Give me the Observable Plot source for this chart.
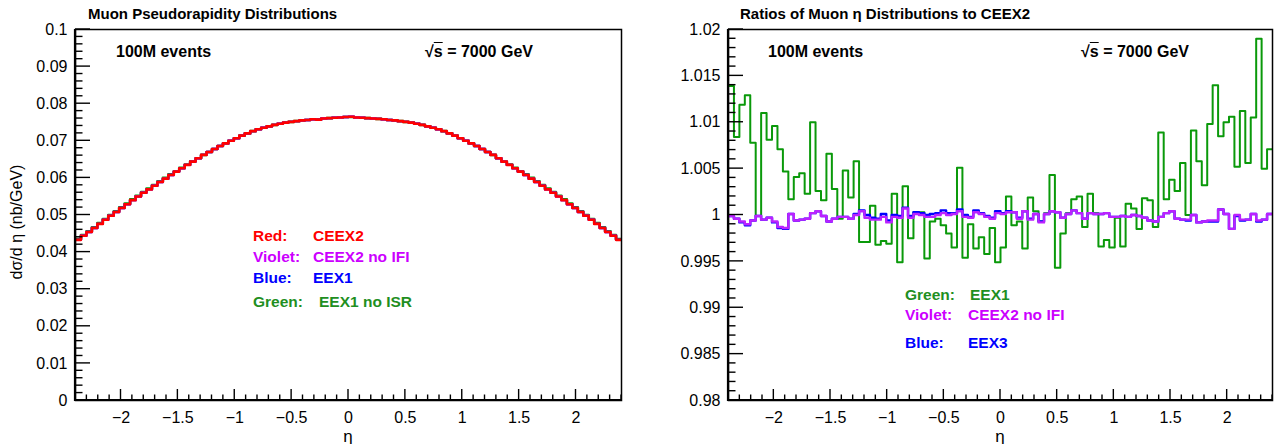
<!DOCTYPE html>
<html><head><meta charset="utf-8">
<script src="https://cdn.jsdelivr.net/npm/d3@7"></script>
<script src="https://cdn.jsdelivr.net/npm/@observablehq/plot@0.6"></script>
<style>
body{margin:0;background:#fff;}
#wrap{position:relative;width:1288px;height:444px;overflow:hidden;font-family:"Liberation Sans",Arial,Helvetica,sans-serif;}
.panel{position:absolute;top:0;}
.t{position:absolute;white-space:nowrap;line-height:1;}
</style></head><body><div id="wrap"></div>
<script>
// ---- binning ----
const etaMin = -2.4, etaMax = 2.4, nBins = 100;

// ---- left panel: dsigma/deta (nb/GeV) ----
const muonCEEX2 = [0.0433,0.0444,0.0454,0.0465,0.0476,0.0487,0.0498,0.0508,0.0519,0.0529,0.0540,0.0550,0.0560,0.0569,0.0579,0.0589,0.0598,0.0608,0.0617,0.0626,0.0635,0.0644,0.0653,0.0662,0.0670,0.0678,0.0686,0.0693,0.0700,0.0707,0.0714,0.0720,0.0726,0.0731,0.0735,0.0739,0.0743,0.0746,0.0749,0.0751,0.0753,0.0755,0.0756,0.0758,0.0757,0.0760,0.0761,0.0762,0.0763,0.0764,
0.0765,0.0763,0.0762,0.0761,0.0760,0.0759,0.0758,0.0756,0.0755,0.0753,0.0751,0.0749,0.0746,0.0743,0.0739,0.0735,0.0731,0.0726,0.0720,0.0714,0.0707,0.0700,0.0693,0.0686,0.0678,0.0670,0.0662,0.0653,0.0644,0.0635,0.0626,0.0617,0.0608,0.0598,0.0589,0.0579,0.0569,0.0560,0.0550,0.0540,0.0529,0.0519,0.0508,0.0498,0.0487,0.0476,0.0465,0.0454,0.0444,0.0433];
const muonEEX1noISR = [0.0435,0.0446,0.0456,0.0467,0.0478,0.0489,0.0500,0.0510,0.0521,0.0531,0.0542,0.0552,0.0562,0.0571,0.0581,0.0591,0.0600,0.0610,0.0618,0.0627,0.0636,0.0645,0.0653,0.0662,0.0670,0.0678,0.0686,0.0693,0.0700,0.0707,0.0714,0.0720,0.0726,0.0731,0.0735,0.0739,0.0743,0.0746,0.0749,0.0751,0.0753,0.0755,0.0756,0.0758,0.0758,0.0760,0.0761,0.0762,0.0763,0.0764,
0.0764,0.0763,0.0762,0.0761,0.0760,0.0759,0.0758,0.0756,0.0755,0.0753,0.0751,0.0749,0.0746,0.0743,0.0739,0.0735,0.0731,0.0726,0.0720,0.0714,0.0707,0.0700,0.0693,0.0686,0.0678,0.0670,0.0662,0.0653,0.0644,0.0636,0.0627,0.0618,0.0610,0.0600,0.0591,0.0581,0.0571,0.0562,0.0552,0.0542,0.0531,0.0521,0.0510,0.0500,0.0489,0.0478,0.0467,0.0456,0.0446,0.0435];
const muonCEEX2noIFI = muonCEEX2;
const muonEEX1 = muonCEEX2;

// ---- right panel: ratios to CEEX2 ----
const ratioEEX1 = [1.0139,1.0084,1.0119,1.0129,1.0078,0.9999,1.0110,1.0081,1.0096,1.0071,1.0047,1.0017,1.0041,1.0045,1.0023,1.0100,1.0026,1.0016,1.0066,1.0028,
0.9996,1.0048,1.0019,1.0058,0.9971,0.9971,1.0010,0.9968,0.9972,0.9969,1.0023,0.9949,1.0031,0.9975,1.0003,1.0003,0.9953,0.9993,0.9996,0.9989,
0.9980,0.9965,1.0051,0.9954,0.9990,0.9964,0.9976,0.9958,0.9986,0.9949,0.9965,1.0020,0.9989,0.9993,0.9964,1.0019,1.0004,0.9993,1.0002,1.0043,
0.9943,0.9980,1.0002,1.0017,1.0020,0.9987,1.0023,1.0002,0.9966,0.9973,0.9965,0.9997,0.9966,1.0012,1.0007,0.9985,1.0018,1.0016,0.9987,1.0089,
1.0017,1.0038,1.0026,1.0056,1.0000,1.0091,1.0058,1.0032,1.0098,1.0140,1.0085,1.0100,1.0106,1.0052,1.0112,1.0056,1.0105,1.0190,1.0050,1.0071];
const ratioCEEX2noIFI = [0.9999,0.9996,0.9993,0.9990,0.9994,0.9999,0.9995,0.9997,0.9993,0.9987,0.9986,1.0001,0.9994,0.9995,0.9996,1.0002,1.0004,0.9999,0.9993,0.9996,
0.9998,0.9998,0.9996,1.0000,1.0004,0.9997,0.9995,0.9995,0.9998,0.9992,0.9998,0.9997,1.0007,0.9997,1.0001,1.0000,0.9998,0.9998,1.0000,1.0002,
1.0000,1.0001,1.0004,0.9998,0.9997,1.0003,1.0001,0.9998,0.9996,1.0002,1.0001,1.0003,1.0003,0.9996,1.0004,0.9995,1.0001,0.9992,1.0001,1.0004,
1.0003,0.9997,1.0001,1.0005,1.0002,0.9996,1.0002,1.0001,1.0001,1.0002,0.9998,0.9998,0.9999,0.9998,1.0000,0.9999,0.9997,0.9994,0.9993,0.9998,
1.0002,1.0004,0.9996,0.9995,0.9995,1.0000,0.9992,0.9993,0.9994,0.9994,1.0006,1.0001,0.9985,1.0000,0.9995,0.9995,1.0001,0.9994,0.9995,1.0001];
const ratioEEX3 = [0.9999,0.9996,0.9992,0.9989,0.9994,0.9999,0.9995,0.9997,0.9992,0.9986,0.9985,1.0001,0.9994,0.9995,0.9996,1.0002,1.0004,0.9999,0.9993,0.9996,
0.9998,0.9998,0.9996,1.0001,1.0005,1.0000,0.9997,0.9996,1.0001,0.9994,1.0000,0.9999,1.0008,0.9999,1.0003,1.0002,1.0000,1.0001,1.0002,1.0005,
1.0002,1.0002,1.0006,1.0000,0.9998,1.0005,1.0002,0.9999,0.9997,1.0004,1.0002,1.0004,1.0003,0.9997,1.0004,0.9996,1.0001,0.9993,1.0001,1.0004,
1.0003,0.9997,1.0001,1.0005,1.0002,0.9996,1.0002,1.0001,1.0001,1.0002,0.9998,0.9998,0.9999,0.9998,1.0000,0.9999,0.9997,0.9994,0.9993,0.9998,
1.0002,1.0004,0.9996,0.9995,0.9994,1.0000,0.9992,0.9993,0.9993,0.9993,1.0006,1.0001,0.9985,0.9999,0.9994,0.9995,1.0001,0.9993,0.9995,1.0001];

// ---- ticks ----
const leftYTicks = [0,0.01,0.02,0.03,0.04,0.05,0.06,0.07,0.08,0.09,0.1];
const rightYTicks = [0.98,0.985,0.99,0.995,1,1.005,1.01,1.015,1.02];
const xTicks = [-2,-1.5,-1,-0.5,0,0.5,1,1.5,2];

const FONT = '"Liberation Sans", Arial, Helvetica, sans-serif';
const binW = (etaMax - etaMin) / nBins;
function stepRows(vals) {
  const rows = vals.map((v, i) => ({x: etaMin + i * binW, y: v}));
  rows.push({x: etaMax, y: vals[vals.length - 1]});
  return rows;
}
function minorTicks(lo, hi, step) {
  const out = [];
  for (let k = Math.ceil(lo / step - 1e-9); k * step <= hi + 1e-9; k++) out.push(+(k * step).toFixed(6));
  return out;
}

function makePanel({yDomain, yTicks, yFmt, yMinorStep, series, marginLeft, marginRight}) {
  const W = 644, H = 444;
  const marks = [];
  for (const s of series) {
    marks.push(Plot.line(stepRows(s.values), {x: "x", y: "y", curve: "step-after", stroke: s.color, strokeWidth: s.width, clip: true}));
  }
  marks.push(Plot.frame({stroke: "#000", strokeWidth: 1.5}));
  marks.push(Plot.axisY(yTicks, {tickSize: 0, tickPadding: 8, tickFormat: yFmt, label: null, fontSize: 16, fill: "#000"}));
  marks.push(Plot.axisX(xTicks, {tickSize: 0, tickPadding: 11, tickFormat: d3.format("~g"), label: null, fontSize: 16, fill: "#000"}));
  const svg = Plot.plot({
    width: W, height: H, marginLeft, marginRight, marginTop: 29, marginBottom: 44,
    x: {domain: [etaMin, etaMax]},
    y: {domain: yDomain},
    style: {fontFamily: FONT, fontSize: "16px", color: "#000", background: "#fff", overflow: "visible"},
    marks
  });
  // inward ROOT-style ticks drawn through Plot's scales
  const sx = svg.scale("x"), sy = svg.scale("y");
  const [x0, x1] = sx.range, [yb, yt] = sy.range;
  const g = d3.select(svg).append("g").attr("stroke", "#000").attr("stroke-width", 1.4);
  const xMinor = minorTicks(etaMin, etaMax, 0.1);
  for (const v of xMinor) {
    const major = xTicks.some(t => Math.abs(t - v) < 1e-6);
    const px = sx.apply(v);
    g.append("line").attr("x1", px).attr("x2", px).attr("y1", yb).attr("y2", yb - (major ? 11 : 5.5));
  }
  const yMinor = minorTicks(yDomain[0], yDomain[1], yMinorStep);
  for (const v of yMinor) {
    const major = yTicks.some(t => Math.abs(t - v) < 1e-7);
    const py = sy.apply(v);
    g.append("line").attr("x1", x0).attr("x2", x0 + (major ? 15 : 7.5)).attr("y1", py).attr("y2", py);
  }
  g.append("line").attr("x1", x0).attr("x2", x0).attr("y1", yt).attr("y2", yb + 1).attr("stroke-width", 2.2);
  g.append("line").attr("x1", x0 - 1).attr("x2", x1).attr("y1", yb).attr("y2", yb).attr("stroke-width", 2.2);
  return svg;
}

const wrap = document.getElementById("wrap");
function place(el, left) { el.classList.add("panel"); el.style.left = left + "px"; wrap.appendChild(el); }

place(makePanel({
  yDomain: [0, 0.1], yTicks: leftYTicks, yMinorStep: 0.002,
  yFmt: d => d === 0 ? "0" : d3.format(".2~f")(d),
  marginLeft: 75, marginRight: 23,
  series: [
    {values: muonEEX1noISR, color: "#0a990a", width: 2.6},
    {values: muonEEX1, color: "#0000ff", width: 2.4},
    {values: muonCEEX2noIFI, color: "#bb22ff", width: 2.4},
    {values: muonCEEX2, color: "#ff0000", width: 2.6}
  ]
}), 0);

place(makePanel({
  yDomain: [0.98, 1.02], yTicks: rightYTicks, yMinorStep: 0.001,
  yFmt: d => d3.format(".3~f")(d),
  marginLeft: 84, marginRight: 16,
  series: [
    {values: ratioEEX1, color: "#0a990a", width: 2},
    {values: ratioEEX3, color: "#0000ff", width: 2.4},
    {values: ratioCEEX2noIFI, color: "#bb22ff", width: 2.4}
  ]
}), 644);

function txt(html, x, y, {color = "#000", size = 15, bold = true, anchor = "start"} = {}) {
  const d = document.createElement("div");
  d.className = "t";
  d.innerHTML = html;
  d.style.left = x + "px"; d.style.top = y + "px";
  d.style.color = color; d.style.fontSize = size + "px";
  d.style.fontWeight = bold ? "bold" : "normal";
  const tx = anchor === "middle" ? "-50%" : anchor === "end" ? "-100%" : "0";
  d.style.transform = `translate(${tx},-50%)`;
  wrap.appendChild(d);
  return d;
}
const sqrtS = '√<span style="text-decoration:overline">s</span> = 7000 GeV';

// titles
txt("Muon Pseudorapidity Distributions", 88, 13, {size: 15});
txt("Ratios of Muon η Distributions to CEEX2", 740, 13, {size: 15});
// annotations
txt("100M events", 116, 52, {size: 16});
txt(sqrtS, 425, 52, {size: 16});
txt("100M events", 768, 52, {size: 16});
txt(sqrtS, 1081, 52, {size: 16});
// axis titles
txt("η", 348, 436, {size: 17, bold: false, anchor: "middle"});
txt("η", 1000, 436, {size: 17, bold: false, anchor: "middle"});
const yl = document.createElement("div");
yl.className = "t";
yl.textContent = "dσ/d η (nb/GeV)";
yl.style.fontSize = "16px";
yl.style.left = "17px"; yl.style.top = "222px";
yl.style.transform = "translate(-50%,-50%) rotate(-90deg)";
wrap.appendChild(yl);

// legend left
const legL = [
  ["Red:", "CEEX2", "#ff0000", 236, 313],
  ["Violet:", "CEEX2 no IFI", "#cc00ff", 257, 313],
  ["Blue:", "EEX1", "#0000ff", 278, 313],
  ["Green:", "EEX1 no ISR", "#1f8f1f", 302, 319]
];
for (const [a, b, c, y, xb] of legL) { txt(a, 253, y, {color: c, size: 15.5}); txt(b, xb, y, {color: c, size: 15.5}); }
// legend right
const legR = [
  ["Green:", "EEX1", "#1f8f1f", 295, 970],
  ["Violet:", "CEEX2 no IFI", "#cc00ff", 315, 968],
  ["Blue:", "EEX3", "#0000ff", 343, 968]
];
for (const [a, b, c, y, xb] of legR) { txt(a, 905, y, {color: c, size: 15.5}); txt(b, xb, y, {color: c, size: 15.5}); }
</script>
</body></html>
